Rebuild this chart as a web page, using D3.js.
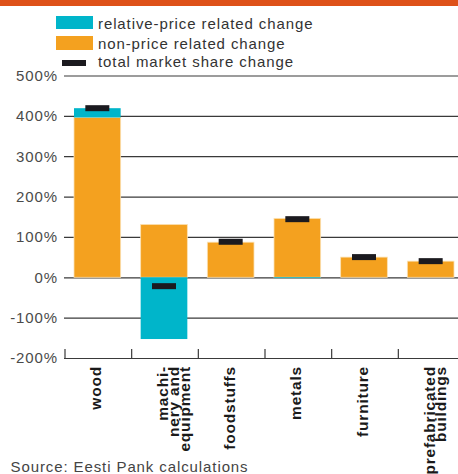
<!DOCTYPE html>
<html>
<head>
<meta charset="utf-8">
<script src="https://cdn.jsdelivr.net/npm/d3@7"></script>
<style>
  body { margin: 0; background: #fff; }
  text { font-family: "Liberation Sans", Arial, sans-serif; letter-spacing: 0.9px; }
</style>
</head>
<body>
<div id="chart"></div>
<script>
// data
const categories = ["wood", "machinery", "foodstuffs", "metals", "furniture", "prefab"];
const categoryLabels = [
    ["wood"],
    ["machi-", "nery and", "equipment"],
    ["foodstuffs"],
    ["metals"],
    ["furniture"],
    ["prefabricated", "buildings"]
];
const nonPriceChange = [396, 131, 87, 146, 50, 40];
const relPriceChange = [23, -153, 0, -2, 0, 0];
const totalChange = [419, -22, 88, 144, 50, 40];
const yTicks = [-200, -100, 0, 100, 200, 300, 400, 500];
const legendItems = ["relative-price related change", "non-price related change", "total market share change"];

const width = 458;
const height = 474;
const colors = { rel: "#00b5ca", non: "#f4a11f", total: "#1b1a1f", band: "#de5119" };

const svg = d3.select("#chart")
    .append("svg")
    .attr("width", width)
    .attr("height", height);

// orange strip on top
svg.append("rect")
    .attr("x", 0).attr("y", 0)
    .attr("width", width).attr("height", 6)
    .attr("fill", colors.band);

const x = d3.scaleBand()
    .domain(categories)
    .range([64, 464])
    .paddingInner(0.3)
    .paddingOuter(0.15);

const y = d3.scaleLinear()
    .domain([-200, 500])
    .range([358, 75.5]);

// y axis with gridlines
const yAxis = svg.append("g")
    .attr("transform", "translate(64,0)")
    .call(d3.axisLeft(y).tickValues(yTicks).tickSize(-400).tickPadding(6).tickFormat(d => d + "%"));
yAxis.select(".domain").remove();
yAxis.selectAll("line").attr("stroke", "#3a3a3a").attr("stroke-width", 1.2);
yAxis.selectAll("text")
    .attr("fill", "#4a4a4a")
    .style("font-size", "15px");

// category ticks on the bottom axis
const step = x.step();
svg.selectAll(".xtick")
    .data(categories)
    .enter()
    .append("line")
    .attr("class", "xtick")
    .attr("x1", d => x(d) - step * 0.15 + 1)
    .attr("x2", d => x(d) - step * 0.15 + 1)
    .attr("y1", y(-200) - 9)
    .attr("y2", y(-200))
    .attr("stroke", "#3a3a3a")
    .attr("stroke-width", 1.2);

// non-price bars
svg.selectAll(".bar-non")
    .data(categories)
    .enter()
    .append("rect")
    .attr("class", "bar-non")
    .attr("x", d => x(d))
    .attr("width", x.bandwidth())
    .attr("y", (d, i) => y(Math.max(0, nonPriceChange[i])))
    .attr("height", (d, i) => Math.abs(y(nonPriceChange[i]) - y(0)))
    .attr("fill", colors.non)
    .attr("stroke", "#fbe2b5")
    .attr("stroke-width", 0.8);

// relative price bars, stacked on the positive / negative side
svg.selectAll(".bar-rel")
    .data(categories)
    .enter()
    .append("rect")
    .attr("class", "bar-rel")
    .attr("x", d => x(d))
    .attr("width", x.bandwidth())
    .attr("y", (d, i) => {
        const v = relPriceChange[i];
        const base = v >= 0 ? Math.max(0, nonPriceChange[i]) : Math.min(0, nonPriceChange[i]);
        return v >= 0 ? y(base + v) : y(base);
    })
    .attr("height", (d, i) => Math.abs(y(relPriceChange[i]) - y(0)))
    .attr("fill", colors.rel);

// total markers
svg.selectAll(".total")
    .data(categories)
    .enter()
    .append("rect")
    .attr("class", "total")
    .attr("x", d => x(d) + x.bandwidth() / 2 - 12)
    .attr("y", (d, i) => y(totalChange[i]) - 3)
    .attr("width", 24)
    .attr("height", 6)
    .attr("fill", colors.total);

// rotated category labels
const labelG = svg.selectAll(".xlabel")
    .data(categories)
    .enter()
    .append("g")
    .attr("class", "xlabel")
    .attr("transform", d => `translate(${x(d) + x.bandwidth() / 2},366) rotate(-90)`);

labelG.each(function (d, i) {
    const g = d3.select(this);
    categoryLabels[i].forEach((line, j) => {
        g.append("text")
            .attr("x", 0)
            .attr("y", 4 + j * 11)
            .attr("text-anchor", "end")
            .attr("fill", "#1a1a1a")
            .style("font-size", "15.5px")
            .style("font-weight", "bold")
            .style("letter-spacing", "0.8px")
            .text(line);
    });
});

// legend
const legend = svg.append("g");
legend.append("rect").attr("x", 56).attr("y", 16).attr("width", 37).attr("height", 13).attr("fill", colors.rel);
legend.append("rect").attr("x", 56).attr("y", 36).attr("width", 37).attr("height", 14).attr("fill", colors.non);
legend.append("rect").attr("x", 62).attr("y", 60).attr("width", 24).attr("height", 6).attr("fill", colors.total);

legend.selectAll(".legend-text")
    .data(legendItems)
    .enter()
    .append("text")
    .attr("class", "legend-text")
    .attr("x", 98)
    .attr("y", (d, i) => [29.3, 49.3, 66.7][i])
    .attr("fill", "#333")
    .style("font-size", "15px")
    .text(d => d);

// source note
svg.append("text")
    .attr("x", 10.5)
    .attr("y", 472)
    .attr("fill", "#444")
    .style("font-size", "15px")
    .text("Source: Eesti Pank calculations");
</script>
</body>
</html>
